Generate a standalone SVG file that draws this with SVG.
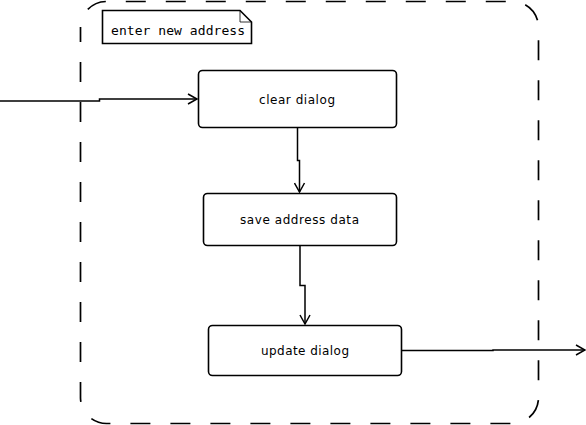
<svg xmlns="http://www.w3.org/2000/svg" width="586" height="425" viewBox="0 0 586 425">
<style>
.node{fill:#fff;stroke:#000;stroke-width:1.6}
.lbl{font-family:"DejaVu Sans",sans-serif;font-size:12px;fill:#000}
.conn{fill:none;stroke:#000;stroke-width:1.5}
.mono{font-family:"DejaVu Sans Mono",monospace;font-size:13px;fill:#000}
</style>
<defs>
<marker id="arr" markerWidth="12" markerHeight="12" refX="10" refY="6" orient="auto" markerUnits="userSpaceOnUse">
<path d="M1,1 L10,6 L1,11" fill="none" stroke="#000" stroke-width="1.5"/>
</marker>
</defs>
<path id="partition" d="M80.5,27 V398 A26,26 0 0 0 106.5,423.5 H512.5 A26,26 0 0 0 538.5,398 V27 A26,26 0 0 0 512.5,1.5 H106.5 A26,26 0 0 0 80.5,27 Z" fill="none" stroke="#000" stroke-width="1.7" stroke-dasharray="20,20" stroke-dashoffset="5"/>
<g id="note">
<path d="M102.5,10.5 H240 L251.5,22 V43.5 H102.5 Z" fill="#fff" stroke="#000" stroke-width="1.6"/>
<path d="M240,10.5 V22 H251.5" fill="none" stroke="#000" stroke-width="0.8"/>
<text class="mono" x="111" y="35" textLength="134" lengthAdjust="spacing">enter new address</text>
</g>
<g id="clear-dialog">
<rect class="node" x="198.5" y="70.5" width="198" height="57" rx="4"/>
<text class="lbl" x="259" y="104" textLength="76" lengthAdjust="spacing">clear dialog</text>
</g>
<g id="save-address-data">
<rect class="node" x="203.5" y="193.5" width="193" height="52" rx="4"/>
<text class="lbl" x="240" y="223.5" textLength="119" lengthAdjust="spacing">save address data</text>
</g>
<g id="update-dialog">
<rect class="node" x="208.5" y="325.5" width="193" height="50" rx="4"/>
<text class="lbl" x="261" y="354.5" textLength="88" lengthAdjust="spacing">update dialog</text>
</g>
<g id="connectors">
<path class="conn" d="M0,101 H99.5 V99 H197" marker-end="url(#arr)"/>
<path class="conn" d="M297.5,128 V160.5 H299.5 V192" marker-end="url(#arr)"/>
<path class="conn" d="M300,246 V285.5 H305 V324" marker-end="url(#arr)"/>
<path class="conn" d="M402,350.5 H493 V350 H585" marker-end="url(#arr)"/>
</g>
</svg>
